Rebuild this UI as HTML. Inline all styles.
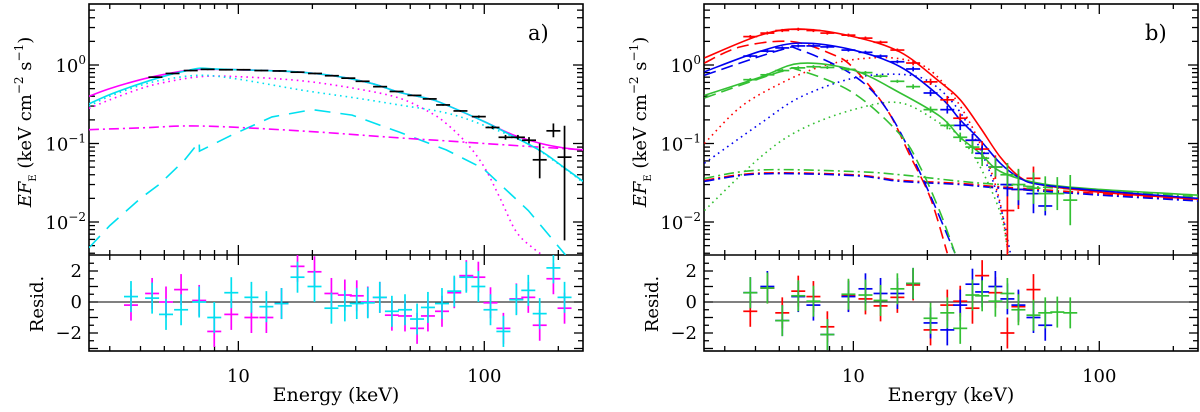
<!DOCTYPE html>
<html><head><meta charset="utf-8"><style>
html,body{margin:0;padding:0;background:#fff;}
svg{display:block;font-family:"DejaVu Serif","Liberation Serif",serif;}
svg text{font-family:"DejaVu Serif","Liberation Serif",serif;}
</style></head><body>
<svg id="fig" width="1200" height="412" viewBox="0 0 1200 412" xmlns="http://www.w3.org/2000/svg" font-family="DejaVu Serif, Liberation Serif, serif">
<defs>
<clipPath id="clipA"><rect x="89" y="4" width="494" height="251"/></clipPath>
<clipPath id="clipAR"><rect x="89" y="255" width="494" height="96"/></clipPath>
<clipPath id="clipB"><rect x="704" y="4" width="494" height="251"/></clipPath>
<clipPath id="clipBR"><rect x="704" y="255" width="494" height="96"/></clipPath>
</defs>
</svg>
<script>
// ---------- Panel a data ----------
const aMagSolidE=[2.47,3,4,5,6,7,8,10,13,18,25,35,45,60,70,100,130,170,210,252];
const aMagSolidV=[0.40,0.50,0.65,0.76,0.84,0.88,0.88,0.87,0.85,0.81,0.72,0.58,0.45,0.37,0.31,0.19,0.13,0.10,0.088,0.083];
const aCyanSolidE=[2.47,3,4,5,6,7,8,10,13,18,25,35,45,60,70,100,130,170,210,252];
const aCyanSolidV=[0.32,0.42,0.58,0.72,0.83,0.91,0.89,0.87,0.85,0.81,0.72,0.58,0.45,0.37,0.31,0.19,0.125,0.08,0.05,0.033];
const aMagDotE=[2.47,3,4,5,7,10,18,30,45,60,70,85,100,116,135,160,180];
const aMagDotV=[0.28,0.36,0.50,0.60,0.71,0.71,0.63,0.50,0.38,0.25,0.18,0.10,0.05,0.02,0.0075,0.0045,0.0035];
const aCyanDotE=[2.47,3,4,5,7,10,18,30,45,70,100,150,200,252];
const aCyanDotV=[0.30,0.40,0.55,0.65,0.74,0.66,0.48,0.38,0.31,0.245,0.17,0.10,0.055,0.032];
const aCyanDashE=[2.47,3,4,4.76,6,6.93,6.95,9.4,13.7,20,29,45,70,99,151,214];
const aCyanDashV=[0.0047,0.009,0.02,0.03,0.06,0.105,0.08,0.128,0.218,0.27,0.23,0.14,0.083,0.048,0.014,0.0038];
const aMagDashDotE=[2.47,4,7,17.7,45,70,100,150,200,252];
const aMagDashDotV=[0.15,0.158,0.167,0.145,0.118,0.108,0.10,0.092,0.087,0.083];
const aDataE=[4.6,5.4,6.4,7.5,8.9,10.5,12.4,14.7,17.4,20.5,24,28,32,37.7,44,52,60,68,80,95,108,122,137,152,168,191,212];
const aDataV=[0.70,0.78,0.85,0.88,0.87,0.87,0.85,0.84,0.81,0.78,0.73,0.68,0.62,0.53,0.46,0.41,0.37,0.31,0.26,0.22,0.16,0.12,0.12,0.11,0.062,0.145,0.067];
const aDataErrLo=[0.01,0.01,0.01,0.01,0.01,0.01,0.01,0.01,0.01,0.01,0.01,0.01,0.01,0.01,0.01,0.01,0.01,0.01,0.012,0.015,0.02,0.03,0.03,0.04,0.236,0.082,1.06];
const aDataErrHi=[0.01,0.01,0.01,0.01,0.01,0.01,0.01,0.01,0.01,0.01,0.01,0.01,0.01,0.01,0.01,0.01,0.01,0.01,0.012,0.015,0.02,0.03,0.03,0.04,0.208,0.094,0.40];
const aResE=[3.66,4.46,5.08,5.85,6.93,7.98,9.36,11.3,13.0,14.98,17.4,20.4,23.9,27.1,30.3,33.6,37.6,42.1,47.6,53.3,59.0,67.3,75.5,84.5,94.6,106,119.6,135,151,168,191,212];
const aResMag=[-0.2,0.55,0,0.8,0.1,-1.9,-0.8,-1.0,-1.0,-0.1,2.3,1.95,0.55,0.45,0.4,0,0.3,-0.85,-0.9,-1.7,-0.9,-0.6,0.6,1.7,1.6,-0.05,-1.7,0.2,0.3,-1.5,1.5,-0.4];
const aResCyan=[0.35,0.25,-0.8,-0.5,0.0,-1.0,0.6,0.3,-0.3,-0.1,1.6,1.0,-0.4,-0.25,-0.1,-0.05,0.3,-0.6,-0.5,-1.1,-0.35,-0.1,0.7,1.6,1.0,-0.5,-1.9,0.15,0.75,-0.75,2.2,0.3];

// ---------- Panel b data ----------
const bRedSolidE=[2.48,4.19,6.09,10,15.5,22.6,27.2,32.8,39.6,47.7,57.5,101,252];
const bRedSolidV=[1.23,2.4,2.87,2.3,1.46,0.6,0.36,0.16,0.067,0.037,0.03,0.024,0.0195];
const bBlueSolidE=[2.48,4.19,6.09,10,15.5,22.6,27.2,32.8,39.6,47.7,57.5,101,252];
const bBlueSolidV=[0.82,1.5,1.9,1.55,0.95,0.39,0.2,0.11,0.056,0.036,0.03,0.025,0.02];
const bGreenSolidE=[2.48,4.19,6.09,10,15.5,22.6,27.2,32.8,39.6,57.5,101,252];
const bGreenSolidV=[0.41,0.7,1.05,0.86,0.44,0.22,0.12,0.075,0.044,0.031,0.026,0.022];
const bRedDashE=[2.48,3.47,5.54,8.06,10,13.7,17,20.6,24.1];
const bRedDashV=[1.06,1.7,2.0,1.4,0.92,0.27,0.07,0.02,0.004];
const bBlueDashE=[2.48,5.05,6.09,10,13.7,18.7,25.9];
const bBlueDashV=[0.74,1.55,1.55,0.74,0.27,0.042,0.004];
const bGreenDashE=[2.48,5.05,6.09,10,15.5,18.7,22.6,25.9];
const bGreenDashV=[0.38,0.82,0.85,0.44,0.13,0.05,0.013,0.004];
const bRedDotE=[2.48,3.47,5.05,7.34,10.7,15.5,20.6,27.2,34.4,39.6,42.6];
const bRedDotV=[0.1,0.29,0.58,0.95,1.2,1.2,0.85,0.3,0.07,0.017,0.004];
const bBlueDotE=[2.48,4.19,6.09,10,15.5,20.6,27.2,34.4,39.6,43.5];
const bBlueDotV=[0.056,0.18,0.39,0.68,0.76,0.6,0.25,0.06,0.016,0.004];
const bGreenDotE=[2.48,4.19,6.09,10,15.5,22.6,27.2,32.8,39.6,42.6];
const bGreenDotV=[0.014,0.067,0.15,0.27,0.33,0.18,0.12,0.05,0.013,0.004];
const bDashDotE=[2.48,4.19,10,15.5,27.2,39.6,101,252];
const bRedDashDotV=[0.034,0.042,0.04,0.034,0.031,0.028,0.023,0.019];
const bBlueDashDotV=[0.033,0.041,0.039,0.033,0.030,0.027,0.022,0.0185];
const bGreenDashDotV=[0.036,0.046,0.044,0.04,0.033,0.03,0.025,0.021];
const bBinE=[3.81,4.47,5.14,5.97,6.88,7.84,9.55,11.2,12.9,15.1,17.5,20.6,24.1,27.2,30.5,33.4,37.8,42.3,46.9,54.0,60.3,67.5,76.2];
const bRedV=[2.3,2.55,2.75,2.85,2.75,2.55,2.4,2.2,1.95,1.55,1.06,0.61,0.36,0.21,0.11,0.085,0.05,0.014,0.026,0.036];
const bRedErr=[0.02,0.02,0.02,0.02,0.02,0.02,0.02,0.02,0.02,0.02,0.03,0.04,0.05,0.06,0.08,0.1,0.15,0.6,0.25,0.15];
const bBlueV=[1.3,1.5,1.65,1.75,1.75,1.7,1.55,1.45,1.3,1.1,0.89,0.44,0.27,0.17,0.11,0.075,0.05,0.03,0.026,0.023,0.016];
const bBlueErr=[0.02,0.02,0.02,0.02,0.02,0.02,0.02,0.02,0.02,0.02,0.03,0.04,0.05,0.06,0.08,0.1,0.12,0.15,0.2,0.25,0.12];
const bGreenV=[0.65,0.75,0.85,0.92,0.95,0.93,0.88,0.8,0.72,0.62,0.53,0.27,0.17,0.12,0.09,0.065,0.05,0.04,0.03,0.027,0.023,0.023,0.019];
const bGreenErr=[0.02,0.02,0.02,0.02,0.02,0.02,0.02,0.02,0.02,0.02,0.03,0.04,0.05,0.06,0.08,0.1,0.12,0.15,0.2,0.2,0.22,0.21,0.32];
const bResRed=[-0.6,0.9,-0.7,0.7,0.35,-1.6,0.4,0.2,-0.25,0.3,1.1,-1.8,-0.2,0.05,-0.4,1.7,0.6,-2.0,-0.3,0.8];
const bResBlue=[0.6,1.0,-1.2,0.35,-0.2,-2.1,0.35,0.85,0.55,0.55,1.2,-1.35,-1.8,-0.2,1.15,0.65,1.0,0.2,-0.2,-1.0,-1.5];
const bResGreen=[0.6,0.9,-1.2,0.4,0.05,-2.1,0.5,0.45,0.1,0.85,1.2,-1.05,-0.7,-1.7,0.45,0.4,0.05,0.55,-0.5,-0.85,-0.7,-0.65,-0.7];

const xTickVals=[3,4,5,6,7,8,9,10,20,30,40,50,60,70,80,90,100,200];
const xTickLabels=["10","100"];

// ---------- drawing ----------
const NS="http://www.w3.org/2000/svg";
const svg=document.getElementById('fig');
const FONT="DejaVu Serif, Liberation Serif, serif";
const EMIN=2.47,EMAX=252,W=494;
const MAG="#ff00ff",CYAN="#00e0f0",RED="#ff0000",BLUE="#0000f0",GREEN="#33c033";
function mk(tag,attrs,name,parent){
  const el=document.createElementNS(NS,tag);
  for(const k in attrs) el.setAttribute(k,attrs[k]);
  
  
  (parent||svg).appendChild(el);
  return el;
}
function L(v){return Math.log10(v);}
function makeX(x0){return E=>x0+(L(E)-L(EMIN))/(L(EMAX)-L(EMIN))*W;}
function yM(v){return 65-78.5*L(v);}
function yR(r){return 302-15.5*r;}
function pathFrom(pts,smooth){
  let d="M"+pts[0][0].toFixed(2)+","+pts[0][1].toFixed(2);
  for(let i=1;i<pts.length;i++){
    if(!smooth){d+="L"+pts[i][0].toFixed(2)+","+pts[i][1].toFixed(2);continue;}
    const p0=pts[Math.max(0,i-2)],p1=pts[i-1],p2=pts[i],p3=pts[Math.min(pts.length-1,i+1)];
    const c1=[p1[0]+(p2[0]-p0[0])/6,p1[1]+(p2[1]-p0[1])/6];
    const c2=[p2[0]-(p3[0]-p1[0])/6,p2[1]-(p3[1]-p1[1])/6];
    d+="C"+c1[0].toFixed(2)+","+c1[1].toFixed(2)+" "+c2[0].toFixed(2)+","+c2[1].toFixed(2)+" "+p2[0].toFixed(2)+","+p2[1].toFixed(2);
  }
  return d;
}
function curve(g,xf,Es,Vs,color,dash,name,smooth){
  const pts=Es.map((e,i)=>[xf(e),yM(Vs[i])]);
  const a={d:pathFrom(pts,smooth!==false),fill:"none",stroke:color,"stroke-width":1.6};
  if(dash) a["stroke-dasharray"]=dash;
  mk('path',a,name,g);
}
function cross(g,xf,E,v,lo,hi,color,name,hw){
  const gg=mk('g',{stroke:color,"stroke-width":1.7},name,g);
  mk('line',{x1:xf(E)-hw,x2:xf(E)+hw,y1:yM(v),y2:yM(v)},'cross-horizontal',gg);
  mk('line',{x1:xf(E),x2:xf(E),y1:yM(v*Math.pow(10,-lo)),y2:yM(v*Math.pow(10,hi))},'cross-vertical',gg);
}
function rcross(g,xf,E,r,color,name,hw){
  const gg=mk('g',{stroke:color,"stroke-width":1.7},name,g);
  mk('line',{x1:xf(E)-hw,x2:xf(E)+hw,y1:yR(r),y2:yR(r)},'resid-horizontal',gg);
  mk('line',{x1:xf(E),x2:xf(E),y1:yR(r-1),y2:yR(r+1)},'resid-vertical',gg);
}
function frame(x0,pid){
  const xf=makeX(x0);
  const g=mk('g',{stroke:"#000","stroke-width":1.3,fill:"none"},pid+'-axes');
  xTickVals.forEach(v=>{
    const x=xf(v),maj=(v===10||v===100);const len=maj?10:5;
    mk('line',{x1:x,x2:x,y1:255,y2:255-len},'x-tick-main-bottom',g);
    mk('line',{x1:x,x2:x,y1:4,y2:4+len},'x-tick-main-top',g);
    mk('line',{x1:x,x2:x,y1:255,y2:255+len},'x-tick-resid-top',g);
    mk('line',{x1:x,x2:x,y1:351,y2:351-len},'x-tick-resid-bottom',g);
  });
  [0.001,0.01,0.1,1].forEach(dec=>{
    for(let m=1;m<10;m++){
      const v=dec*m;const y=yM(v);if(y<4||y>255)continue;
      const len=m===1?10:6;
      mk('line',{x1:x0,x2:x0+len,y1:y,y2:y},'y-tick-left',g);
      mk('line',{x1:x0+W,x2:x0+W-len,y1:y,y2:y},'y-tick-right',g);
    }
  });
  for(let r=-3;r<=3;r+=0.5){
    const y=yR(r);if(y<256||y>350)continue;
    const len=Number.isInteger(r)?9:5;
    mk('line',{x1:x0,x2:x0+len,y1:y,y2:y},'resid-y-tick-left',g);
    mk('line',{x1:x0+W,x2:x0+W-len,y1:y,y2:y},'resid-y-tick-right',g);
  }
  mk('rect',{x:x0,y:4,width:W,height:347,"stroke-width":1.6},pid+'-frame',g);
  mk('line',{x1:x0,x2:x0+W,y1:255,y2:255,"stroke-width":1.6},pid+'-divider',g);
  mk('line',{x1:x0,x2:x0+W,y1:yR(0),y2:yR(0),"stroke-width":0.9},pid+'-zero-line',g);
  const tg=mk('g',{fill:"#000","font-size":"18px","font-family":FONT},pid+'-tick-labels');
  [["0",1],["−1",0.1],["−2",0.01]].forEach(([s,v])=>{
    const t=mk('text',{x:x0-3,y:yM(v)+7,"text-anchor":"end","font-family":FONT},'y-tick-label',tg);
    t.innerHTML='10<tspan font-size="12px" dy="-8">'+s+'</tspan>';
  });
  [["2",2],["0",0],["−2",-2]].forEach(([s,v])=>{
    const t=mk('text',{x:x0-7,y:yR(v)+6,"text-anchor":"end","font-family":FONT},'resid-tick-label',tg);
    t.textContent=s;
  });
  [10,100].forEach((v,i)=>{
    const t=mk('text',{x:xf(v),y:382,"text-anchor":"middle","font-family":FONT},'x-tick-label',tg);
    t.textContent=xTickLabels[i];
  });
  const xt=mk('text',{x:x0+W/2,y:401,"text-anchor":"middle","font-size":"19px","font-family":FONT},pid+'-x-axis-title',tg);
  xt.textContent="Energy (keV)";
  const yt=mk('text',{x:0,y:0,transform:"translate("+(x0-58)+",122) rotate(-90)","text-anchor":"middle","font-size":"18px","font-family":FONT},pid+'-y-axis-title',tg);
  yt.innerHTML='<tspan font-style="italic">EF</tspan><tspan font-size="10px" dy="5">E</tspan><tspan dy="-5"> (keV cm</tspan><tspan font-size="12px" dy="-8">−2</tspan><tspan dy="8"> s</tspan><tspan font-size="12px" dy="-8">−1</tspan><tspan dy="8">)</tspan>';
  const rt=mk('text',{x:0,y:0,transform:"translate("+(x0-46)+",304) rotate(-90)","text-anchor":"middle","font-size":"18px","font-family":FONT},pid+'-resid-axis-title',tg);
  rt.textContent="Resid.";
  return xf;
}

// Panel a
const xa=frame(89,'panel-a');
const ga=mk('g',{"clip-path":"url(#clipA)"},'panel-a-spectrum');
curve(ga,xa,aCyanDashE,aCyanDashV,CYAN,"16 10",'cyan-reflection-dashed',false);
curve(ga,xa,aMagDashDotE,aMagDashDotV,MAG,"10 4 2 4",'magenta-powerlaw-dashdot');
curve(ga,xa,aMagDotE,aMagDotV,MAG,"1.6 4",'magenta-comptt-dotted');
curve(ga,xa,aCyanDotE,aCyanDotV,CYAN,"1.6 4",'cyan-comptt-dotted');
curve(ga,xa,aMagSolidE,aMagSolidV,MAG,null,'magenta-total-model');
curve(ga,xa,aCyanSolidE,aCyanSolidV,CYAN,null,'cyan-total-model');
aDataE.forEach((e,i)=>cross(ga,xa,e,aDataV[i],aDataErrLo[i],aDataErrHi[i],"#000",'data-point-black',7));
const gar=mk('g',{"clip-path":"url(#clipAR)"},'panel-a-residuals');
aResE.forEach((e,i)=>rcross(gar,xa,e,aResMag[i],MAG,'resid-magenta',7));
aResE.forEach((e,i)=>rcross(gar,xa,e,aResCyan[i],CYAN,'resid-cyan',7));
const la=mk('text',{x:528,y:40,"font-size":"21px",fill:"#000","font-family":FONT},'panel-a-label');
la.textContent="a)";

// Panel b
const xb=frame(704,'panel-b');
const gb=mk('g',{"clip-path":"url(#clipB)"},'panel-b-spectrum');
curve(gb,xb,bDashDotE,bGreenDashDotV,GREEN,"10 4 2 4",'green-powerlaw-dashdot');
curve(gb,xb,bDashDotE,bRedDashDotV,RED,"10 4 2 4",'red-powerlaw-dashdot');
curve(gb,xb,bDashDotE,bBlueDashDotV,BLUE,"10 4 2 4",'blue-powerlaw-dashdot');
curve(gb,xb,bRedDotE,bRedDotV,RED,"1.6 4",'red-comptt-dotted');
curve(gb,xb,bBlueDotE,bBlueDotV,BLUE,"1.6 4",'blue-comptt-dotted');
curve(gb,xb,bGreenDotE,bGreenDotV,GREEN,"1.6 4",'green-comptt-dotted');
curve(gb,xb,bRedDashE,bRedDashV,RED,"12 6",'red-disk-dashed');
curve(gb,xb,bBlueDashE,bBlueDashV,BLUE,"12 6",'blue-disk-dashed');
curve(gb,xb,bGreenDashE,bGreenDashV,GREEN,"12 6",'green-disk-dashed');
curve(gb,xb,bRedSolidE,bRedSolidV,RED,null,'red-total-model');
curve(gb,xb,bGreenSolidE,bGreenSolidV,GREEN,null,'green-total-model');
curve(gb,xb,bBlueSolidE,bBlueSolidV,BLUE,null,'blue-total-model');
bRedV.forEach((v,i)=>cross(gb,xb,bBinE[i],v,bRedErr[i],bRedErr[i],RED,'data-point-red',7));
bBlueV.forEach((v,i)=>cross(gb,xb,bBinE[i],v,bBlueErr[i],bBlueErr[i],BLUE,'data-point-blue',7));
bGreenV.forEach((v,i)=>cross(gb,xb,bBinE[i],v,bGreenErr[i],bGreenErr[i],GREEN,'data-point-green',7));
const gbr=mk('g',{"clip-path":"url(#clipBR)"},'panel-b-residuals');
bResRed.forEach((r,i)=>rcross(gbr,xb,bBinE[i],r,RED,'resid-red',7));
bResBlue.forEach((r,i)=>rcross(gbr,xb,bBinE[i],r,BLUE,'resid-blue',7));
bResGreen.forEach((r,i)=>rcross(gbr,xb,bBinE[i],r,GREEN,'resid-green',7));
const lb=mk('text',{x:1145,y:40,"font-size":"21px",fill:"#000","font-family":FONT},'panel-b-label');
lb.textContent="b)";
</script>
</body></html>
